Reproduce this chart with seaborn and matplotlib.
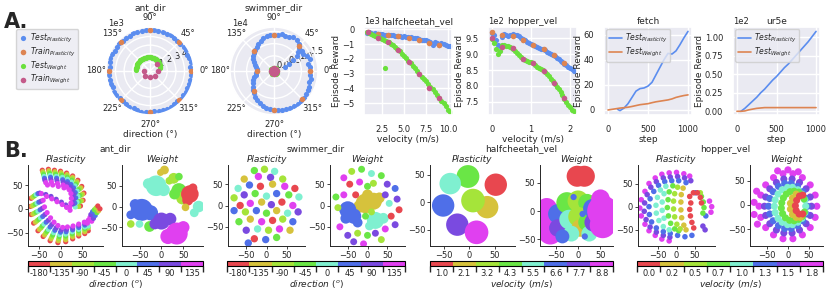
import numpy as np
import matplotlib
matplotlib.use("Agg")
import matplotlib.pyplot as plt
import seaborn as sns
from matplotlib.colors import ListedColormap, BoundaryNorm
from matplotlib.colorbar import ColorbarBase

sns.set_theme(style="darkgrid")
plt.rcParams['font.family'] = ['DejaVu Sans']

W, H = 830, 291

# colours
c_test_pl = "#5b8def"
c_train_pl = "#dd8452"
c_test_w = "#6ae03c"
c_train_w = "#c45a8a"
task_colors = ["#e8474f", "#d6c23c", "#a5e43a", "#6ae646",
               "#7ff0d0", "#4f6fe8", "#7a4ae0", "#e040f0"]

# ---------------- A: ant_dir (reward in 1e3) ----------------
ant_test_dir = np.arange(0, 360, 6)
ant_test_pl = [4.78, 4.72, 4.80, 4.75, 4.70, 4.77, 4.82, 4.74, 4.69, 4.76,
               4.80, 4.73, 4.78, 4.71, 4.75, 4.81, 4.76, 4.70, 4.74, 4.79,
               4.73, 4.77, 4.72, 4.80, 4.75, 4.69, 4.76, 4.82, 4.74, 4.71,
               4.78, 4.73, 4.79, 4.75, 4.70, 4.77, 4.81, 4.74, 4.72, 4.78,
               4.76, 4.70, 4.75, 4.80, 4.73, 4.77, 4.71, 4.79, 4.74, 4.76,
               4.82, 4.72, 4.75, 4.78, 4.70, 4.77, 4.73, 4.80, 4.74, 4.76]
ant_train_dir = [0, 45, 90, 135, 180, 225, 270, 315]
ant_train_pl = [4.78, 4.76, 4.77, 4.75, 4.78, 4.76, 4.77, 4.75]
ant_test_w_dir = np.arange(16, 180, 4)
ant_test_w = [1.20, 1.23, 1.26, 1.29, 1.32, 1.35, 1.38, 1.41, 1.44, 1.46,
              1.48, 1.50, 1.52, 1.54, 1.55, 1.56, 1.57, 1.58, 1.59, 1.60,
              1.61, 1.62, 1.63, 1.64, 1.64, 1.65, 1.65, 1.66, 1.66, 1.67,
              1.67, 1.67, 1.66, 1.66, 1.65, 1.64, 1.63, 1.62, 1.61, 1.60, 1.58]
ant_train_w_dir = [0, 45, 180, 225, 270, 315]
ant_train_w = [0.87, 1.15, 0.75, 0.88, 0.75, 0.88]

# ---------------- A: swimmer_dir (reward in 1e4) ----------------
sw_test_dir = list(np.arange(0, 360, 6)) + [22, 26, 30, 34, 38]
sw_test_pl = [1.35, 1.38, 1.30, 1.42, 1.36, 1.25, 1.30, 1.28, 1.38, 1.45,
              1.47, 1.42, 1.40, 1.41, 1.38, 1.37, 1.36, 1.33, 1.28, 1.22,
              1.15, 1.08, 1.03, 0.98, 0.92, 0.85, 0.77, 0.70, 0.63, 0.59,
              0.58, 0.60, 0.65, 0.72, 0.80, 0.88, 0.96, 1.03, 1.10, 1.17,
              1.25, 1.32, 1.38, 1.42, 1.45, 1.47, 1.49, 1.50, 1.52, 1.53,
              1.55, 1.55, 1.54, 1.52, 1.50, 1.47, 1.45, 1.40, 1.42, 1.37,
              0.35, 0.55, 0.80, 1.00, 1.12]
sw_train_dir = [0, 45, 90, 135, 180, 225, 270, 315]
sw_train_pl = [1.35, 1.33, 1.37, 1.02, 0.58, 1.06, 1.47, 1.52]
sw_test_w_dir = [0, 30, 60, 90, 120, 150, 180, 210, 240, 270, 300, 330]
sw_test_w = [0.01, 0.0, 0.02, 0.01, 0.0, 0.01, 0.02, 0.0, 0.01, 0.0, 0.02, 0.01]
sw_train_w = [0.0, 0.0, 0.0, 0.0, 0.0, 0.0, 0.0, 0.0]

# ---------------- A: halfcheetah_vel (reward in 1e3) ----------------
hc_test_v = [0.8, 1.0, 1.25, 1.5, 1.75, 2.0, 2.25, 2.5, 2.75, 3.0,
             3.25, 3.5, 3.75, 4.0, 4.25, 4.5, 4.75, 5.0, 5.25, 5.5,
             5.75, 6.0, 6.25, 6.5, 6.75, 7.0, 7.25, 7.5, 7.75, 8.0,
             8.25, 8.5, 8.75, 9.0, 9.25, 9.5, 9.75, 10.0, 10.2]
hc_test_pl = [-0.25, -0.22, -0.28, -0.30, -0.27, -0.33, -0.35, -0.32, -0.38, -0.36,
              -0.40, -0.42, -0.40, -0.45, -0.43, -0.48, -0.50, -0.47, -0.52, -0.55,
              -0.53, -0.57, -0.60, -0.62, -0.66, -0.70, -0.72, -0.75, -0.80, -0.88,
              -1.10, -0.85, -0.92, -1.05, -0.95, -0.98, -1.08, -1.12, -1.15]
hc_test_w = [-0.20, -0.25, -0.32, -0.40, -0.47, -0.55, -0.62, -0.68, -0.75, -0.80,
             -0.88, -0.98, -1.10, -1.22, -1.35, -1.50, -1.65, -1.80, -1.95, -2.12,
             -2.30, -2.48, -2.65, -2.85, -3.02, -3.20, -3.35, -3.52, -3.70, -3.88,
             -4.05, -4.25, -4.45, -4.65, -4.82, -4.98, -5.20, -5.45, -5.60]
hc_outlier_v, hc_outlier_w = [2.8], [-2.6]
hc_train_v = [0.9, 2.0, 3.2, 4.35, 5.55, 6.7, 7.85, 9.0]
hc_train_pl = [-0.22, -0.32, -0.40, -0.48, -0.58, -0.72, -0.90, -1.05]
hc_train_w = [-0.22, -0.60, -0.85, -1.42, -2.25, -3.05, -3.95, -4.67]

# ---------------- A: hopper_vel (reward in 1e2) ----------------
hp_test_v = [0.0, 0.05, 0.1, 0.15, 0.2, 0.25, 0.3, 0.35, 0.4, 0.45,
             0.5, 0.55, 0.6, 0.65, 0.7, 0.75, 0.8, 0.85, 0.9, 0.95,
             1.0, 1.05, 1.1, 1.15, 1.2, 1.25, 1.3, 1.35, 1.4, 1.45,
             1.5, 1.55, 1.6, 1.65, 1.7, 1.75, 1.8, 1.85, 1.9, 1.95,
             2.0, 2.05, 2.1]
hp_test_pl = [9.68, 9.62, 9.45, 9.30, 9.25, 9.55, 9.63, 9.60, 9.58, 9.62,
              9.60, 9.64, 9.62, 9.60, 9.57, 9.52, 9.48, 9.45, 9.40, 9.37,
              9.33, 9.30, 9.27, 9.24, 9.21, 9.18, 9.15, 9.12, 9.08, 9.04,
              9.00, 8.97, 8.93, 8.89, 8.85, 8.80, 8.75, 8.70, 8.66, 8.61,
              8.57, 8.53, 8.48]
hp_test_w = [9.48, 9.35, 9.15, 9.02, 9.10, 9.28, 9.30, 9.27, 9.25, 9.22,
             9.20, 9.15, 9.10, 9.03, 8.97, 8.90, 8.85, 8.82, 8.80, 8.77,
             8.74, 8.71, 8.66, 8.61, 8.57, 8.53, 8.49, 8.44, 8.38, 8.30,
             8.22, 8.14, 8.07, 7.98, 7.90, 7.80, 7.70, 7.60, 7.50, 7.40,
             7.32, 7.25, 7.20]
hp_train_v = [0.0, 0.26, 0.53, 0.79, 1.06, 1.32, 1.59, 1.85]
hp_train_pl = [9.71, 9.60, 9.57, 9.45, 9.29, 9.18, 8.97, 8.71]
hp_train_w = [9.50, 9.22, 9.20, 8.84, 8.72, 8.48, 8.08, 7.62]

# ---------------- A: fetch / ur5e curves ----------------
fetch_pl_step = [120, 150, 200, 250, 300, 350, 400, 450, 500, 550,
                 600, 650, 700, 750, 800, 850, 900, 950, 1000]
fetch_pl = [0.5, -0.5, 1.5, 5, 10, 15, 17, 17.5, 19, 22,
            28, 34, 40, 45, 44.5, 47, 52, 57.5, 62.5]
fetch_w_step = [0, 50, 100, 150, 200, 250, 300, 350, 400, 450, 500,
                550, 600, 650, 700, 750, 800, 850, 900, 950, 1000]
fetch_w = [0, 0.5, 1, 1.5, 1.8, 2.2, 2.8, 3.5, 4.2, 4.6, 5,
           5.8, 6.5, 7, 7.5, 8, 8.8, 10, 10.8, 11.5, 12]
ur_pl_step = [50, 100, 150, 200, 250, 300, 350, 400, 450, 500,
              550, 600, 650, 700, 750, 800, 850, 900, 950, 1000]
ur_pl = [0.0, 0.04, 0.09, 0.14, 0.19, 0.25, 0.30, 0.36, 0.42, 0.47,
         0.53, 0.59, 0.64, 0.70, 0.76, 0.82, 0.88, 0.94, 1.01, 1.08]
ur_w_step = [0, 50, 100, 150, 200, 250, 300, 350, 400, 500, 600, 700, 800, 900, 1000]
ur_w = [0.0, 0.0, 0.005, 0.02, 0.03, 0.04, 0.045, 0.05, 0.05, 0.05, 0.05, 0.05, 0.05, 0.05, 0.05]

# ---------------- B: t-SNE embeddings (x, y, task) ----------------
ant_pl_pts = [
    (-42, 81, 0), (-28, 83, 0), (-14, 81, 0), (0, 79, 0), (14, 75, 0), (28, 69, 0), (40, 60, 0), (49, 47, 0), (54, 33, 0), (52, 18, 0), (46, 6, 0),
    (-41, 78, 1), (-27, 80, 1), (-13, 78, 1), (1, 76, 1), (15, 72, 1), (28, 66, 1), (38, 57, 1), (47, 44, 1), (51, 31, 1), (49, 17, 1),
    (-40, 75, 2), (-26, 77, 2), (-12, 75, 2), (2, 73, 2), (15, 69, 2), (27, 63, 2), (37, 54, 2), (44, 42, 2), (48, 29, 2), (46, 16, 2), (42, 5, 2),
    (-39, 72, 3), (-25, 74, 3), (-11, 72, 3), (3, 70, 3), (16, 66, 3), (26, 60, 3), (35, 51, 3), (41, 40, 3), (44, 28, 3), (42, 15, 3),
    (-38, 68, 4), (-24, 70, 4), (-10, 68, 4), (4, 66, 4), (16, 62, 4), (25, 56, 4), (33, 48, 4), (38, 37, 4), (40, 26, 4), (38, 14, 4), (34, 4, 4),
    (-37, 64, 5), (-23, 66, 5), (-9, 64, 5), (5, 61, 5), (16, 57, 5), (24, 51, 5), (30, 44, 5), (34, 34, 5), (35, 23, 5), (33, 12, 5),
    (-36, 60, 6), (-22, 61, 6), (-8, 59, 6), (6, 56, 6), (15, 52, 6), (22, 46, 6), (27, 39, 6), (30, 30, 6), (30, 20, 6), (28, 10, 6),
    (-34, 55, 7), (-21, 56, 7), (-7, 53, 7), (6, 50, 7), (14, 46, 7), (20, 40, 7), (24, 32, 7), (25, 22, 7), (24, 12, 7), (21, 4, 7),
    (-30, 50, 7), (-18, 50, 7), (-5, 47, 7), (8, 44, 7),
    (-68, 22, 0), (-70, 5, 0), (-68, -12, 0), (-62, -30, 0), (-52, -46, 0), (-40, -58, 0), (-24, -67, 0), (-6, -71, 0), (12, -69, 0), (28, -63, 0), (42, -57, 0), (56, -52, 0), (64, -46, 0),
    (-65, 24, 1), (-66, 6, 1), (-64, -11, 1), (-58, -28, 1), (-49, -43, 1), (-37, -55, 1), (-22, -63, 1), (-5, -67, 1), (12, -65, 1), (28, -59, 1), (42, -53, 1), (56, -48, 1),
    (-62, 26, 2), (-62, 8, 2), (-60, -9, 2), (-54, -25, 2), (-45, -40, 2), (-34, -51, 2), (-20, -59, 2), (-4, -63, 2), (12, -61, 2), (27, -55, 2), (42, -50, 2), (56, -44, 2), (64, -40, 2),
    (-59, 28, 3), (-58, 10, 3), (-56, -7, 3), (-50, -22, 3), (-42, -36, 3), (-31, -47, 3), (-18, -55, 3), (-3, -58, 3), (12, -57, 3), (27, -52, 3), (42, -46, 3), (56, -41, 3),
    (-56, 30, 4), (-54, 12, 4), (-52, -5, 4), (-46, -19, 4), (-38, -32, 4), (-28, -43, 4), (-16, -50, 4), (-2, -54, 4), (12, -53, 4), (27, -48, 4), (42, -43, 4), (56, -38, 4), (64, -36, 4),
    (-52, 32, 5), (-50, 14, 5), (-47, -2, 5), (-41, -16, 5), (-33, -28, 5), (-24, -38, 5), (-13, -45, 5), (0, -49, 5), (13, -48, 5), (28, -44, 5), (42, -39, 5), (56, -34, 5),
    (-48, 33, 6), (-45, 16, 6), (-42, 1, 6), (-36, -12, 6), (-28, -24, 6), (-20, -33, 6), (-10, -40, 6), (2, -44, 6), (14, -43, 6), (28, -40, 6), (42, -35, 6), (56, -31, 6),
    (-44, 32, 7), (-40, 18, 7), (-37, 4, 7), (-31, -8, 7), (-23, -19, 7), (-15, -28, 7), (-6, -35, 7), (5, -39, 7), (16, -38, 7), (29, -36, 7), (42, -32, 7), (55, -28, 7), (62, -30, 7),
    (-34, 30, 6), (-22, 26, 6), (-10, 20, 6), (2, 14, 6), (12, 8, 6),
    (-32, 26, 7), (-20, 21, 7), (-8, 15, 7), (4, 9, 7), (14, 3, 7), (22, -3, 7),
    (64, -24, 7), (68, -18, 7), (72, -26, 7), (70, -12, 6), (76, -20, 6), (74, -6, 5), (80, -14, 5),
    (78, -2, 3), (84, -8, 3), (82, 2, 2), (88, -4, 1), (86, 6, 0), (91, 0, 0),
]
ant_w_blobs = [
    (7, 88, 1, 40), (-2, 82, 1, 25), (28, 68, 2, 60), (40, 72, 3, 30), (18, 62, 2, 30),
    (-12, 50, 4, 220), (-30, 55, 4, 60), (5, 40, 4, 80), (40, 38, 3, 120), (48, 20, 2, 80),
    (30, 30, 3, 60), (65, 30, 0, 160), (72, 45, 0, 40), (60, 15, 0, 60), (85, 0, 4, 70),
    (75, -15, 4, 40), (55, -2, 1, 30), (-45, -8, 5, 250), (-60, 5, 5, 60), (-25, -15, 5, 120),
    (-70, -20, 5, 40), (-27, -48, 3, 60), (-70, -42, 2, 30), (0, -35, 6, 150), (20, -30, 6, 80),
    (-15, -42, 6, 60), (35, -65, 7, 250), (15, -72, 7, 120), (50, -50, 7, 80), (-50, -42, 4, 30),
]
sw_pl_blobs = [
    (-30, 82, 3), (-5, 85, 2), (20, 80, 4), (-55, 62, 1), (-20, 68, 7), (10, 66, 6), (40, 62, 2),
    (-70, 40, 4), (-42, 48, 5), (-15, 45, 0), (15, 50, 1), (45, 45, 7), (70, 40, 0),
    (-80, 18, 2), (-55, 25, 6), (-28, 28, 3), (0, 22, 4), (25, 28, 5), (55, 25, 3), (80, 20, 4),
    (-65, 0, 0), (-40, 5, 7), (-12, 8, 1), (12, 2, 6), (38, 8, 0), (65, 0, 7),
    (-80, -12, 5), (-52, -15, 2), (-25, -12, 5), (0, -18, 3), (25, -12, 1), (52, -18, 4), (78, -15, 6),
    (-68, -38, 3), (-40, -32, 1), (-12, -38, 7), (15, -35, 0), (40, -32, 2), (65, -38, 5),
    (-50, -58, 6), (-22, -55, 4), (5, -58, 2), (32, -55, 7), (58, -58, 1),
    (-30, -78, 0), (-2, -80, 5), (25, -75, 3), (-45, -88, 5),
]
sw_w_blobs = [
    (-5, 5, 1, 200), (15, 10, 1, 150), (-20, -2, 1, 80), (30, 18, 1, 60), (0, 25, 1, 60),
    (-50, -10, 5, 150), (-35, -25, 5, 120), (-55, -30, 5, 60), (-25, -40, 5, 50),
    (20, -35, 4, 150), (40, -30, 4, 60), (5, -48, 4, 40),
    (-40, 80, 2, 25), (-15, 85, 3, 25), (-60, 65, 7, 25), (10, 75, 4, 25), (35, 70, 3, 25),
    (-45, 50, 0, 25), (-20, 55, 7, 25), (15, 52, 2, 25), (50, 50, 6, 25), (70, 40, 5, 25),
    (-80, 20, 3, 25), (-60, 25, 7, 25), (-30, 25, 0, 25), (45, 25, 6, 25), (75, 15, 6, 25),
    (55, 5, 4, 25), (80, -10, 0, 25), (60, -25, 0, 25), (70, -45, 6, 25), (45, -55, 7, 25),
    (-75, -5, 2, 25), (-70, -50, 7, 25), (-50, -70, 6, 25), (-25, -65, 2, 25), (0, -70, 3, 25),
    (20, -65, 6, 25), (35, -80, 2, 25), (-10, -90, 7, 25), (-35, -85, 6, 25), (0, 45, 3, 25),
    (-5, -25, 3, 25), (10, -15, 2, 25),
]
hc_pl_blobs = [
    (52, 32, 0, 260), (35, -9, 1, 260), (7, 3, 2, 290), (-3, 47, 3, 270),
    (-38, 34, 4, 240), (-52, -6, 5, 260), (-24, -41, 6, 260), (14, -55, 7, 290),
]
hc_w_blobs = [
    (-2, 62, 0, 230), (14, 62, 0, 230),
    (-65, -15, 7, 500), (-62, -38, 7, 300), (-70, 5, 7, 220), (-45, -5, 5, 200), (-45, -30, 6, 160),
    (-25, 15, 3, 230), (0, 18, 2, 230), (20, 15, 3, 160), (-20, -15, 4, 200), (0, -10, 2, 200),
    (5, -30, 1, 160), (-15, -40, 4, 130), (20, -20, 3, 160), (25, -40, 4, 130), (32, 5, 5, 180),
    (35, -20, 6, 180), (55, 0, 7, 500), (55, -25, 7, 350), (50, 22, 7, 180), (-35, -45, 5, 100),
    (10, -5, 5, 20), (15, -45, 5, 20), (-10, 25, 5, 20),
]
hp_pl_pts = [
    (-40, 70, 7), (-20, 73, 7), (0, 74, 7), (20, 71, 7), (36, 66, 7), (-58, 62, 7), (-75, 50, 7), (-86, 33, 7),
    (-96, 15, 7), (-100, -3, 7), (-96, -20, 7), (-86, -38, 7), (-75, -52, 7), (-58, -62, 7), (-40, -70, 7),
    (-20, -74, 7), (90, 12, 7), (96, 0, 7), (94, -12, 7),
    (-36, 62, 6), (-17, 64, 6), (3, 65, 6), (22, 62, 6), (39, 56, 6), (-55, 54, 6), (-70, 42, 6), (-80, 26, 6),
    (-87, 8, 6), (-88, -10, 6), (-83, -28, 6), (-72, -44, 6), (-55, -55, 6), (-36, -62, 6), (-18, -66, 6),
    (72, -42, 6), (78, -50, 6),
    (-32, 54, 5), (-13, 56, 5), (6, 56, 5), (26, 52, 5), (-49, 46, 5), (-62, 33, 5), (-72, 17, 5), (-75, 0, 5),
    (-74, -17, 5), (-68, -33, 5), (-55, -46, 5), (-36, -54, 5), (-17, -58, 5), (3, -62, 5), (23, -65, 5),
    (42, -62, 5), (52, 30, 5), (80, -20, 5),
    (-29, 44, 4), (-44, 36, 4), (-52, 20, 4), (-56, 3, 4), (-55, -14, 4), (-48, -30, 4), (-36, -43, 4),
    (-20, -50, 4), (-34, 28, 4), (-39, 10, 4), (-39, -8, 4), (-34, -25, 4),
    (-10, 45, 3), (-20, 32, 3), (-23, 15, 3), (-25, -2, 3), (-22, -20, 3), (-16, -36, 3), (-5, -48, 3),
    (6, -52, 3), (68, 22, 3), (73, 10, 3), (75, -2, 3), (72, -14, 3),
    (3, 42, 2), (-5, 28, 2), (-8, 12, 2), (-8, -5, 2), (-5, -22, 2), (1, -38, 2), (10, -48, 2), (65, 30, 2),
    (18, 40, 1), (13, 26, 1), (12, 10, 1), (12, -7, 1), (14, -24, 1), (20, -40, 1), (26, -50, 1),
    (36, 22, 0), (46, 30, 0), (57, 30, 0), (65, 20, 0), (39, 8, 0), (36, -6, 0), (38, -20, 0),
    (42, -34, 0), (47, -46, 0), (68, 8, 0),
]
hp_w_pts = [
    (70, -3, 7), (66, 20, 7), (54, 41, 7), (35, 56, 7), (12, 64, 7), (-12, 64, 7), (-35, 56, 7),
    (-54, 41, 7), (-66, 20, 7), (-70, -3, 7), (-66, -26, 7), (-54, -47, 7), (-35, -62, 7),
    (-12, -70, 7), (12, -70, 7), (35, -62, 7), (54, -47, 7), (66, -26, 7),
    (-82, 5, 7), (-82, -20, 7), (-76, 28, 7), (-74, -40, 7), (-25, 70, 7), (0, 72, 7), (25, 68, 7),
    (57, -3, 6), (54, 16, 6), (44, 33, 6), (28, 46, 6), (10, 53, 6), (-10, 53, 6), (-28, 46, 6),
    (-44, 33, 6), (-54, 16, 6), (-57, -3, 6), (-54, -22, 6), (-44, -39, 6), (-28, -52, 6),
    (-10, -58, 6), (10, -58, 6), (28, -52, 6), (44, -39, 6), (54, -22, 6),
    (47, -3, 5), (44, 13, 5), (36, 27, 5), (23, 38, 5), (8, 44, 5), (-8, 44, 5), (-23, 38, 5),
    (-36, 27, 5), (-44, 13, 5), (-47, -3, 5), (-44, -19, 5), (-36, -33, 5), (-23, -43, 5),
    (-8, -49, 5), (8, -49, 5), (23, -43, 5), (36, -33, 5), (44, -19, 5),
    (43, -3, 4), (41, 10, 4), (34, 22, 4), (24, 31, 4), (11, 36, 4), (-1, 36, 4), (-14, 31, 4),
    (-24, 22, 4), (-31, 10, 4), (-33, -3, 4), (-31, -16, 4), (-24, -28, 4), (-14, -36, 4),
    (-1, -41, 4), (11, -41, 4), (24, -36, 4), (34, -28, 4), (41, -16, 4),
    (39, 12, 3), (34, 20, 3), (26, 26, 3), (15, 28, 3), (5, 27, 3), (-4, 22, 3), (-11, 14, 3),
    (-15, 4, 3), (-16, -7, 3), (-13, -18, 3), (-6, -27, 3), (4, -32, 3), (15, -33, 3),
    (26, -30, 3), (35, -24, 3), (40, -15, 3),
    (20, 22, 1), (11, 14, 1), (6, 3, 1), (6, -9, 1), (11, -20, 1), (20, -26, 1), (30, -26, 1),
    (28, 18, 0), (21, 9, 0), (18, -2, 0), (20, -12, 0), (27, -19, 0), (36, -19, 0), (36, 20, 0),
]

# colorbar ticks
dir_ticks = ["-180", "-135", "-90", "-45", "0", "45", "90", "135"]
hc_vel_ticks = ["1.0", "2.1", "3.2", "4.3", "5.5", "6.6", "7.7", "8.8"]
hp_vel_ticks = ["0.0", "0.2", "0.5", "0.7", "1.0", "1.3", "1.5", "1.8"]


def box(x0, y0, x1, y1):
    return [x0 / W, 1 - y1 / H, (x1 - x0) / W, (y1 - y0) / H]


def fx(x):
    return x / W


def fy(y):
    return 1 - y / H


fig = plt.figure(figsize=(8.3, 2.91), dpi=100)
fs = 6


# ---- polar plots
def polar_panel(rect, cx, title, rlim, rticks, rticklabels, offset, off_x):
    ax = fig.add_axes(rect, projection='polar')
    ax.set_ylim(*rlim)
    ax.set_yticks(rticks)
    ax.set_yticklabels(rticklabels)
    ax.set_rlabel_position(22.5)
    ax.tick_params(labelsize=fs, pad=0)
    ax.tick_params(axis='x', pad=-6)
    fig.text(fx(cx), fy(8), title, fontsize=6.5, ha='center', va='center')
    fig.text(fx(cx), fy(135), "direction (°)", fontsize=6.5, ha='center', va='center')
    fig.text(fx(off_x), fy(23), offset, fontsize=fs, ha='center', va='center')
    return ax


ax = polar_panel(box(106, 27, 194, 115), 150, "ant_dir", (0, 5.1), [1, 2, 3, 4],
                 ["1", "2", "3", "4"], "1e3", 116)
ax.scatter(np.deg2rad(ant_test_dir), ant_test_pl, s=14, color=c_test_pl, lw=0, label=r"$Test_{Plasticity}$")
ax.scatter(np.deg2rad(ant_train_dir), ant_train_pl, s=16, color=c_train_pl, lw=0, label=r"$Train_{Plasticity}$")
ax.scatter(np.deg2rad(ant_test_w_dir), ant_test_w, s=14, color=c_test_w, lw=0, label=r"$Test_{Weight}$")
ax.scatter(np.deg2rad(ant_train_w_dir), ant_train_w, s=16, color=c_train_w, lw=0, label=r"$Train_{Weight}$")
handles, labels = ax.get_legend_handles_labels()

ax = polar_panel(box(230, 27, 318, 115), 274, "swimmer_dir", (-0.12, 1.68), [0, 0.5, 1.0, 1.5],
                 ["0.0", "0.5", "1.0", "1.5"], "1e4", 240)
ax.scatter(np.deg2rad(sw_test_dir), sw_test_pl, s=14, color=c_test_pl, lw=0)
ax.scatter(np.deg2rad(sw_train_dir), sw_train_pl, s=16, color=c_train_pl, lw=0)
ax.scatter(np.deg2rad(sw_test_w_dir), sw_test_w, s=14, color=c_test_w, lw=0)
ax.scatter(np.deg2rad(sw_train_dir), sw_train_w, s=16, color=c_train_w, lw=0)

fig.legend(handles, labels, loc='upper left', bbox_to_anchor=(fx(16), fy(29)),
           fontsize=5.5, frameon=True, handletextpad=0.3, labelspacing=0.1, borderpad=0.35,
           handlelength=1.2, borderaxespad=0)
fig.text(fx(4), fy(28), "A.", fontsize=15, fontweight='bold')
fig.text(fx(4), fy(157), "B.", fontsize=15, fontweight='bold')


# ---- scatter / line panels
def cart_panel(rect, title, offset=None, tx=0.5):
    ax = fig.add_axes(rect)
    ax.set_title(title, fontsize=6.5, pad=2, x=tx)
    ax.tick_params(labelsize=fs, pad=1)
    if offset:
        ax.text(0.0, 1.01, offset, transform=ax.transAxes, fontsize=fs, ha='left', va='bottom')
    return ax


def labels_xy(ax, xlabel):
    ax.set_xlabel(xlabel, fontsize=6.5, labelpad=1)
    ax.set_ylabel("Episode Reward", fontsize=6.5, labelpad=0.5)


ax = cart_panel(box(364, 27, 452, 115), "halfcheetah_vel", "1e3", tx=0.6)
ax.scatter(hc_test_v, hc_test_pl, s=14, color=c_test_pl, lw=0)
ax.scatter(hc_train_v, hc_train_pl, s=16, color=c_train_pl, lw=0)
ax.scatter(hc_test_v + hc_outlier_v, hc_test_w + hc_outlier_w, s=14, color=c_test_w, lw=0)
ax.scatter(hc_train_v, hc_train_w, s=16, color=c_train_w, lw=0)
ax.set_xlim(0.45, 10.45)
ax.set_ylim(-5.8, 0.15)
ax.set_xticks([2.5, 5.0, 7.5, 10.0])
ax.set_yticks([0, -1, -2, -3, -4, -5])
labels_xy(ax, "velocity (m/s)")

ax = cart_panel(box(488, 27, 577, 115), "hopper_vel", "1e2")
ax.scatter(hp_test_v, hp_test_pl, s=14, color=c_test_pl, lw=0)
ax.scatter(hp_train_v, hp_train_pl, s=16, color=c_train_pl, lw=0)
ax.scatter(hp_test_v, hp_test_w, s=14, color=c_test_w, lw=0)
ax.scatter(hp_train_v, hp_train_w, s=16, color=c_train_w, lw=0)
ax.set_xlim(-0.1, 2.17)
ax.set_ylim(7.08, 9.86)
ax.set_xticks([0, 1, 2])
ax.set_yticks([7.5, 8.0, 8.5, 9.0, 9.5])
labels_xy(ax, "velocity (m/s)")

ax = cart_panel(box(604, 27, 692, 115), "fetch")
sns.lineplot(x=fetch_pl_step, y=fetch_pl, ax=ax, color=c_test_pl, lw=1.2, label=r"$Test_{Plasticity}$")
sns.lineplot(x=fetch_w_step, y=fetch_w, ax=ax, color=c_train_pl, lw=1.2, label=r"$Test_{Weight}$")
ax.set_xlim(-50, 1050)
ax.set_ylim(-4, 66)
ax.set_xticks([0, 500, 1000])
ax.set_yticks([0, 20, 40, 60])
labels_xy(ax, "step")
ax.legend(loc='upper left', fontsize=5.5, handlelength=1.8, borderpad=0.3, labelspacing=0.2,
          handletextpad=0.4, borderaxespad=0.3)

ax = cart_panel(box(733, 27, 820, 115), "ur5e", "1e2")
sns.lineplot(x=ur_pl_step, y=ur_pl, ax=ax, color=c_test_pl, lw=1.2, label=r"$Test_{Plasticity}$")
sns.lineplot(x=ur_w_step, y=ur_w, ax=ax, color=c_train_pl, lw=1.2, label=r"$Test_{Weight}$")
ax.set_xlim(-50, 1050)
ax.set_ylim(-0.05, 1.14)
ax.set_xticks([0, 500, 1000])
ax.set_yticks([0, 0.25, 0.5, 0.75, 1.0])
ax.set_yticklabels(["0.00", "0.25", "0.50", "0.75", "1.00"])
labels_xy(ax, "step")
ax.legend(loc='upper left', fontsize=5.5, handlelength=1.8, borderpad=0.3, labelspacing=0.2,
          handletextpad=0.4, borderaxespad=0.3)


# ---- B row
def tsne_panel(rect, title, xlim, ylim):
    with sns.axes_style("ticks"):
        ax = fig.add_axes(rect)
    sns.despine(ax=ax)
    ax.set_xlim(*xlim)
    ax.set_ylim(*ylim)
    ax.set_xticks([-50, 0, 50])
    ax.set_yticks([-50, 0, 50])
    ax.tick_params(labelsize=fs, pad=1, length=2.5, width=0.6)
    for s in ["left", "bottom"]:
        ax.spines[s].set_linewidth(0.7)
    ax.set_title(title, fontsize=6.5, fontstyle='italic', pad=2)
    return ax


def draw_pts(ax, pts, size):
    a = np.array(pts, dtype=float)
    ax.scatter(a[:, 0], a[:, 1], s=size, c=[task_colors[int(k)] for k in a[:, 2]], lw=0)


def draw_blobs(ax, blobs, default=25):
    a = np.array(blobs, dtype=float)
    sizes = a[:, 3] if a.shape[1] > 3 else default
    ax.scatter(a[:, 0], a[:, 1], s=sizes, c=[task_colors[int(k)] for k in a[:, 2]], lw=0)


ax = tsne_panel(box(28, 165, 103, 246), "Plasticity", (-75, 98), (-78, 92))
draw_pts(ax, ant_pl_pts, 14)
ax = tsne_panel(box(122, 165, 203, 246), "Weight", (-90, 95), (-95, 100))
draw_blobs(ax, ant_w_blobs)
ax = tsne_panel(box(228, 165, 305, 246), "Plasticity", (-95, 95), (-95, 95))
draw_blobs(ax, sw_pl_blobs, 28)
ax = tsne_panel(box(330, 165, 405, 246), "Weight", (-95, 95), (-95, 95))
draw_blobs(ax, sw_w_blobs)
ax = tsne_panel(box(430, 165, 515, 246), "Plasticity", (-78, 90), (-80, 68))
draw_blobs(ax, hc_pl_blobs)
ax = tsne_panel(box(540, 165, 613, 246), "Weight", (-85, 78), (-62, 82))
draw_blobs(ax, hc_w_blobs)
ax = tsne_panel(box(638, 165, 715, 246), "Plasticity", (-105, 105), (-85, 90))
draw_pts(ax, hp_pl_pts, 16)
ax = tsne_panel(box(750, 165, 823, 246), "Weight", (-92, 85), (-85, 82))
draw_pts(ax, hp_w_pts, 26)

for x, name in [(115, "ant_dir"), (316, "swimmer_dir"), (521, "halfcheetah_vel"), (725, "hopper_vel")]:
    fig.text(fx(x), fy(149), name, fontsize=6.5, ha='center', va='center')

# ---- colorbars
cmap = ListedColormap(task_colors)
norm = BoundaryNorm(np.arange(9), 8)
for (x0, x1), ticks, label in [((28, 203), dir_ticks, r"$direction\ (^o)$"),
                               ((227, 405), dir_ticks, r"$direction\ (^o)$"),
                               ((430, 613), hc_vel_ticks, r"$velocity\ (m/s)$"),
                               ((637, 823), hp_vel_ticks, r"$velocity\ (m/s)$")]:
    cax = fig.add_axes(box(x0, 261, x1, 266))
    cb = ColorbarBase(cax, cmap=cmap, norm=norm, orientation='horizontal',
                      ticks=np.arange(8) + 0.5)
    cb.set_ticklabels(ticks)
    cb.outline.set_linewidth(0.8)
    cb.outline.set_edgecolor('black')
    cax.tick_params(labelsize=fs, length=0, pad=2)
    cb.set_label(label, fontsize=6.5, labelpad=0)

fig.savefig("out.png", dpi=100)
